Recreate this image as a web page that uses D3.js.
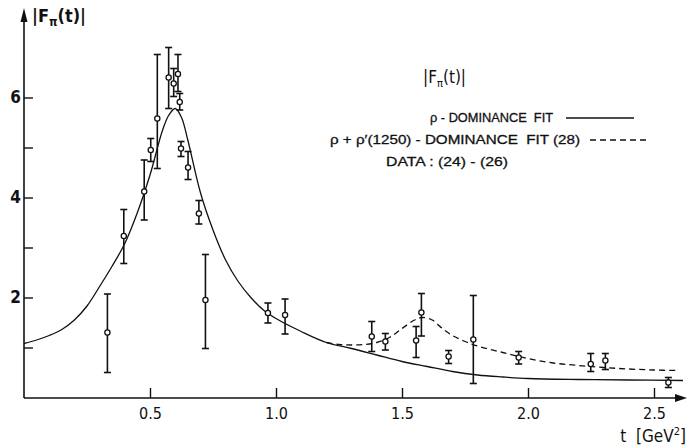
<!DOCTYPE html>
<html><head><meta charset="utf-8">
<script src="https://cdn.jsdelivr.net/npm/d3@7"></script>
<style>
html,body{margin:0;padding:0;background:#fff;}
svg{display:block;font-family:"Liberation Sans",Arial,sans-serif;}
text.pre{white-space:pre;}
</style></head>
<body>
<svg id="c" width="688" height="447"></svg>
<script>
// data points: t [GeV^2], |F|, error low, error high
const dataT  = [0.331,0.396,0.477,0.503,0.529,0.574,0.594,0.611,0.618,0.623,0.651,0.694,0.720,0.968,1.036,1.380,1.434,1.556,1.577,1.685,1.783,1.963,2.249,2.307,2.557];
const dataF  = [1.30,3.23,4.12,4.95,5.58,6.40,6.28,6.47,5.91,4.98,4.60,3.68,1.95,1.69,1.65,1.22,1.12,1.14,1.70,0.82,1.16,0.80,0.67,0.74,0.30];
const dataLo = [0.50,2.68,3.55,4.72,4.58,5.78,6.02,6.12,5.75,4.82,4.36,3.47,0.98,1.49,1.27,0.92,0.95,0.80,1.23,0.68,0.28,0.67,0.52,0.56,0.20];
const dataHi = [2.07,3.76,4.75,5.18,6.86,7.00,6.58,6.86,6.08,5.12,4.92,3.94,2.86,1.89,1.97,1.52,1.28,1.42,2.08,0.94,2.04,0.92,0.88,0.88,0.40];

// rho-dominance fit (solid)
const rhoT = [0,0.05,0.1,0.15,0.2,0.25,0.3,0.35,0.4,0.45,0.5,0.55,0.575,0.6,0.625,0.65,0.7,0.75,0.8,0.85,0.9,0.95,1.0,1.1,1.2,1.3,1.4,1.5,1.6,1.7,1.8,1.9,2.0,2.2,2.4,2.615];
const rhoF = [1.08,1.15,1.24,1.36,1.55,1.83,2.22,2.63,3.08,3.7,4.45,5.35,5.65,5.78,5.6,5.15,4.1,3.35,2.75,2.32,2.0,1.75,1.58,1.32,1.10,0.98,0.85,0.72,0.62,0.52,0.45,0.41,0.38,0.36,0.35,0.34];

// rho + rho'(1250) fit (dashed)
const rho2T = [1.20,1.25,1.30,1.35,1.40,1.45,1.50,1.55,1.58,1.62,1.66,1.70,1.75,1.80,1.90,2.00,2.10,2.20,2.30,2.40,2.50,2.59];
const rho2F = [1.10,1.06,1.05,1.06,1.10,1.20,1.38,1.55,1.60,1.55,1.38,1.24,1.12,1.03,0.90,0.78,0.69,0.64,0.60,0.57,0.55,0.54];

const xTicks = [0.5,1.0,1.5,2.0,2.5];
const yTicks = [1,2,3,4,5,6];
const yLabels = [2,4,6];

const svg = d3.select("#c");
const x = d3.scaleLinear().domain([0,2.5]).range([24,654]);
const y = d3.scaleLinear().domain([0,6]).range([397.5,97.5]);

const ink = "#111";
const lf = "'Liberation Sans',Arial,sans-serif";

// axes lines with arrows
svg.append("line").attr("x1",24).attr("y1",398).attr("x2",682).attr("y2",398).attr("stroke",ink).attr("stroke-width",1.6);
svg.append("path").attr("d","M687,398 L675,394 L675,402 Z").attr("fill",ink);
svg.append("line").attr("x1",24).attr("y1",398).attr("x2",24).attr("y2",16).attr("stroke",ink).attr("stroke-width",1.6);
svg.append("path").attr("d","M24,8 L20.5,22 L27.5,22 Z").attr("fill",ink);

// x axis ticks (inward)
const xa = d3.axisBottom(x).tickValues(xTicks).tickSizeInner(-10).tickSizeOuter(0).tickPadding(18).tickFormat(d3.format(".1f"));
const gx = svg.append("g").attr("transform","translate(0,398)").call(xa);
gx.select(".domain").remove();
gx.selectAll("line").attr("stroke",ink).attr("stroke-width",1.4);
gx.selectAll("text").attr("fill",ink).attr("font-size",16).attr("font-family","'Liberation Sans Narrow','DejaVu Sans Condensed',sans-serif").attr("dy","0.2em");

// y axis ticks (inward)
const ya = d3.axisLeft(y).tickValues(yTicks).tickSizeInner(-9).tickSizeOuter(0).tickPadding(6)
  .tickFormat(d => yLabels.includes(d) ? String(d) : "");
const gy = svg.append("g").attr("transform","translate(24,0)").call(ya);
gy.select(".domain").remove();
gy.selectAll("line").attr("stroke",ink).attr("stroke-width",1.4);
gy.selectAll("text").attr("fill",ink).attr("font-size",17).attr("font-weight","bold").attr("font-family","'DejaVu Sans Condensed',sans-serif").attr("x",-3);

// curves
const line = d3.line().x(d=>x(d[0])).y(d=>y(d[1])).curve(d3.curveCatmullRom.alpha(0.5));
svg.append("path").datum(rhoT.map((t,i)=>[t,rhoF[i]])).attr("d",line)
  .attr("fill","none").attr("stroke",ink).attr("stroke-width",1.3);
svg.append("path").datum(rho2T.map((t,i)=>[t,rho2F[i]])).attr("d",line)
  .attr("fill","none").attr("stroke",ink).attr("stroke-width",1.3).attr("stroke-dasharray","6,4");

// error bars and points
const pts = dataT.map((t,i)=>({t,f:dataF[i],lo:dataLo[i],hi:dataHi[i]}));
const g = svg.append("g");
const eb = g.selectAll("g.e").data(pts).enter().append("g");
eb.append("line").attr("x1",d=>x(d.t)).attr("x2",d=>x(d.t)).attr("y1",d=>y(d.lo)).attr("y2",d=>y(d.hi)).attr("stroke",ink).attr("stroke-width",1.6);
eb.append("line").attr("x1",d=>x(d.t)-3.5).attr("x2",d=>x(d.t)+3.5).attr("y1",d=>y(d.lo)).attr("y2",d=>y(d.lo)).attr("stroke",ink).attr("stroke-width",1.6);
eb.append("line").attr("x1",d=>x(d.t)-3.5).attr("x2",d=>x(d.t)+3.5).attr("y1",d=>y(d.hi)).attr("y2",d=>y(d.hi)).attr("stroke",ink).attr("stroke-width",1.6);
eb.append("circle").attr("cx",d=>x(d.t)).attr("cy",d=>y(d.f)).attr("r",2.6).attr("fill","#fff").attr("stroke",ink).attr("stroke-width",1.3);

// y axis title
const yt = svg.append("text").attr("x",32).attr("y",22).attr("font-size",18).attr("font-family","'DejaVu Sans Condensed',sans-serif").attr("font-weight","bold").attr("fill",ink);
yt.append("tspan").text("|F");
yt.append("tspan").attr("font-size",12).attr("dy",4).text("π");
yt.append("tspan").attr("dy",-4).text("(t)|");

// x axis title
const xt = svg.append("text").attr("class","pre").attr("x",686).attr("y",442).attr("text-anchor","end").attr("font-size",17).attr("font-family","'Liberation Sans Narrow','DejaVu Sans Condensed',sans-serif").attr("fill",ink);
xt.append("tspan").text("t  [GeV");
xt.append("tspan").attr("font-size",11).attr("dy",-7).text("2");
xt.append("tspan").attr("dy",7).text("]");

// legend
const lt = svg.append("text").attr("x",423).attr("y",83).attr("font-size",17).attr("font-family","'DejaVu Sans Condensed',sans-serif").attr("fill",ink);
lt.append("tspan").text("|F");
lt.append("tspan").attr("font-size",11).attr("dy",4).text("π");
lt.append("tspan").attr("dy",-4).text("(t)|");

function legendText(xp, yp, s, w) {
  svg.append("text").attr("class","pre").attr("x",xp).attr("y",yp)
    .attr("font-size",13).attr("font-family",lf).attr("fill",ink).attr("stroke",ink).attr("stroke-width",0.3)
    .attr("textLength",w).attr("lengthAdjust","spacingAndGlyphs").text(s);
}
legendText(430, 122, "ρ - DOMINANCE  FIT", 123);
svg.append("line").attr("x1",566).attr("x2",634).attr("y1",118).attr("y2",118).attr("stroke",ink).attr("stroke-width",1.3);
legendText(330, 144, "ρ + ρ′(1250) - DOMINANCE  FIT (28)", 250);
svg.append("line").attr("x1",590).attr("x2",650).attr("y1",140).attr("y2",140).attr("stroke",ink).attr("stroke-width",1.3).attr("stroke-dasharray","6,4");
legendText(386, 166, "DATA : (24) - (26)", 122);
</script>
</body></html>
